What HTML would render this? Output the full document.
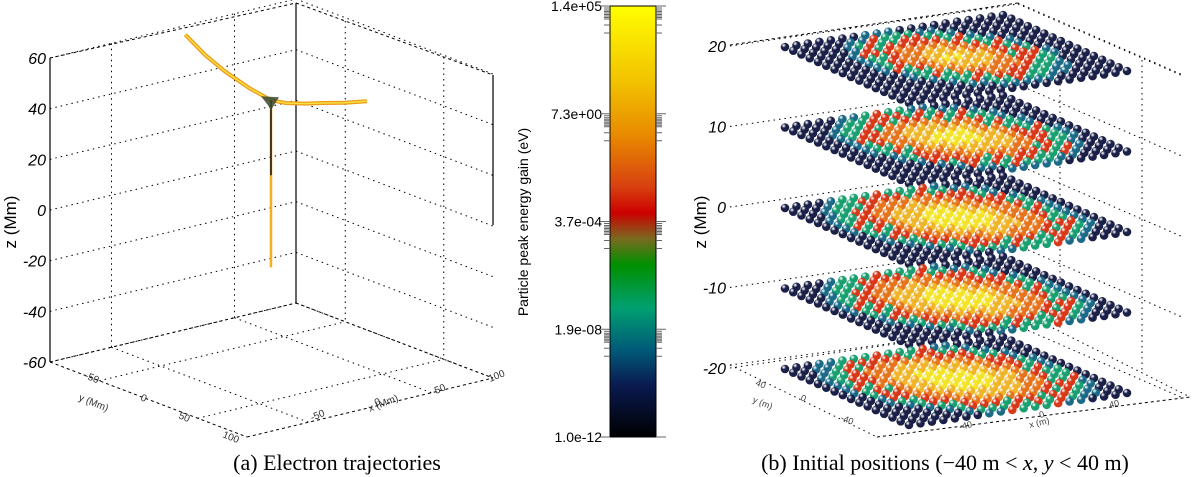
<!DOCTYPE html>
<html><head><meta charset="utf-8"><style>
html,body{margin:0;padding:0;background:#fff;}
svg{display:block;font-family:"Liberation Sans",sans-serif;}
</style></head><body>
<svg id="fig" width="1200" height="477" viewBox="0 0 1200 477" xmlns="http://www.w3.org/2000/svg">
<defs>
<linearGradient id="cbar" x1="0" y1="0" x2="0" y2="1">
<stop offset="0" stop-color="#ffff00"/><stop offset="0.18" stop-color="#f2c000"/><stop offset="0.3" stop-color="#e88a00"/>
<stop offset="0.42" stop-color="#d84010"/><stop offset="0.48" stop-color="#cc0000"/><stop offset="0.54" stop-color="#7a6a20"/>
<stop offset="0.6" stop-color="#009000"/><stop offset="0.7" stop-color="#00a070"/><stop offset="0.8" stop-color="#005878"/>
<stop offset="0.88" stop-color="#0a1a50"/><stop offset="1" stop-color="#000000"/>
</linearGradient>
</defs>
<g id="left"></g>
<g id="cb"></g>
<g id="right"></g>
<text x="337" y="470" text-anchor="middle" font-family="Liberation Serif,serif" font-size="22">(a)  Electron trajectories</text>
<text x="945" y="470" text-anchor="middle" font-family="Liberation Serif,serif" font-size="22">(b)  Initial positions (−40 m &lt; <tspan font-style="italic">x</tspan>, <tspan font-style="italic">y</tspan> &lt; 40 m)</text>
</svg>
<script>
// ---- data ----
const leftZTicks = [60, 40, 20, 0, -20, -40, -60];
const trajX = [18, 18, 18, 18, 18, 30, 45, 60, 78, 96];
const trajY = [110, 90, 70, 45, 23, 23, 23, 23, 23, 23];
const trajZ = [54, 49, 45.5, 42.5, 41, 38.5, 36.5, 35, 33, 31.5];
const stemZ = [41, -25];
const cbarLabels = ["1.4e+05", "7.3e+00", "3.7e-04", "1.9e-08", "1.0e-12"];
const rightZTicks = [20, 10, 0, -10, -20];
const layerZ = [20, 10, 0, -10, -20];
const layerHot = [0.0, 0.12, 0.2, 0.2, 0.22];
const ringLimits = [0.3, 0.5, 0.68, 0.84, 0.98, 1.08];
const ringColors = ["#f4e428", "#f0b428", "#e6741c", "#d83818", "#1aa070", "#1a6a88", "#1b2048"];

const NS = "http://www.w3.org/2000/svg";
function el(parent, tag, attrs, text) {
  const e = document.createElementNS(NS, tag);
  for (const k in attrs) e.setAttribute(k, attrs[k]);
  if (text !== undefined) e.textContent = text;
  parent.appendChild(e);
  return e;
}
const defs = document.querySelector("defs");
ringColors.forEach((c, i) => {
  const g = el(defs, "radialGradient", {id: "sg" + i, cx: "0.35", cy: "0.3", r: "0.75"});
  el(g, "stop", {offset: "0", "stop-color": "#ffffff", "stop-opacity": "0.7"});
  el(g, "stop", {offset: "0.35", "stop-color": c});
  el(g, "stop", {offset: "1", "stop-color": c, "stop-opacity": "1"});
});

// ---- left panel ----
const L = document.getElementById("left");
function P(x, y, z) {
  const u = (x + 100) / 200, v = (y + 100) / 200, w = (z + 60) / 120;
  return [247 + 246 * u - 197 * v, 437 - 59 * u - 75 * v - 304 * w];
}
function zToY(z) { return 362 - (z + 60) / 120 * 304; }
const dot = {stroke: "#000", "stroke-width": "1", "stroke-dasharray": "1.5 4", fill: "none"};
function line(g, a, b, st, name) {
  const l = el(g, "line", Object.assign({x1: a[0], y1: a[1], x2: b[0], y2: b[1]}, st));
  
  
  return l;
}
leftZTicks.forEach(z => {
  const y = zToY(z);
  line(L, [50, y], [296, y - 59], dot, "grid-line");
  line(L, [296, y - 59], [493, y + 16], dot, "grid-line");
  const t = el(L, "text", {x: 46, y: y + 6, "text-anchor": "end", "font-size": "16", "font-style": "italic"}, String(z));
  
  
});
[0.25, 0.75].forEach(f => {
  line(L, [50 + 246 * f, 58 - 59 * f], [50 + 246 * f, 362 - 59 * f], dot, "grid-line");
  line(L, [296 + 197 * f, 3 + 72 * f], [296 + 197 * f, 303 + 75 * f], dot, "grid-line");
  line(L, [50 + 197 * f, 362 + 75 * f], [296 + 197 * f, 303 + 75 * f], dot, "floor-grid");
  line(L, [296 - 246 * f, 303 + 59 * f], [493 - 246 * f, 378 + 59 * f], dot, "floor-grid");
});
const dash = {stroke: "#000", "stroke-width": "1", "stroke-dasharray": "3 3", fill: "none"};
line(L, [50, 58], [296, 3], dash, "top-edge");
line(L, [296, 3], [493, 75], dash, "top-edge");
line(L, [50, 362], [296, 303], dash, "floor-edge");
line(L, [296, 303], [493, 378], dash, "floor-edge");
line(L, [50, 362], [247, 437], dash, "floor-edge");
line(L, [247, 437], [493, 378], dash, "floor-edge");
const solid = {stroke: "#000", "stroke-width": "1.2"};
line(L, [50, 58], [50, 362], solid, "z-axis");
line(L, [296, 3], [296, 303], solid, "back-edge");
line(L, [493, 75], [493, 225], solid, "right-edge");
const zl = el(L, "text", {x: 0, y: 0, transform: "translate(16,222) rotate(-90)", "text-anchor": "middle", "font-size": "17"}, "z (Mm)");


[["y (Mm)", 78, 400, 22], ["x (Mm)", 370, 412, -22], ["-50", 84, 378, 22], ["0", 140, 400, 22], ["50", 178, 418, 22], ["100", 222, 437, 22], ["-50", 312, 421, -22], ["0", 376, 406, -22], ["50", 436, 394, -22], ["100", 490, 382, -22]].forEach(d => {
  const t = el(L, "text", {x: d[1], y: d[2], transform: `rotate(${d[3]} ${d[1]} ${d[2]})`, "font-size": "10", fill: "#333"}, d[0]);
  
  
});
const tpts = trajX.map((x, i) => P(x, trajY[i], trajZ[i]));
const tp = tpts.map(p => p.join(",")).join(" ");
let tr = el(L, "polyline", {points: tp, fill: "none", stroke: "#ec9a1c", "stroke-width": "4", "stroke-linejoin": "round"});


tr = el(L, "polyline", {points: tp, fill: "none", stroke: "#f8e040", "stroke-width": "1.5", "stroke-linejoin": "round"});


const s0 = P(trajX[4], trajY[4], stemZ[0]), s1 = P(trajX[4], trajY[4], stemZ[1]);
let st = el(L, "line", {x1: s0[0], y1: s0[1], x2: s1[0], y2: s1[1], stroke: "#f0b020", "stroke-width": "2.5"});


st = el(L, "line", {x1: s0[0], y1: s0[1], x2: s0[0], y2: s0[1] + 75, stroke: "#111", "stroke-width": "1.5"});


const cl = el(L, "path", {d: `M${s0[0]-10},${s0[1]-4} L${s0[0]+8},${s0[1]-3} L${s0[0]+3},${s0[1]+5} L${s0[0]},${s0[1]+10} L${s0[0]-3},${s0[1]+5} Z`, fill: "#3a4a30", opacity: "0.85"});



// ---- colorbar ----
const C = document.getElementById("cb");
const cbx = 610, cbw = 46, cbt = 6, cbb = 437;
const cr = el(C, "rect", {x: cbx, y: cbt, width: cbw, height: cbb - cbt, fill: "url(#cbar)", stroke: "#000", "stroke-width": "1"});


cbarLabels.forEach((lab, i) => {
  const y = cbt + (cbb - cbt) * i / (cbarLabels.length - 1);
  const t = el(C, "text", {x: 602, y: y + 5, "text-anchor": "end", "font-size": "14"}, lab);
  
  
  const offs = i < cbarLabels.length - 1 ? [0, 2, 4, 5.5, 7, 8.5, 10, 11.5, 13, 19, 27] : [0];
  offs.forEach(o => {
    const w = o === 0 ? 10 : 6;
    el(C, "line", {x1: cbx - w, y1: y + o, x2: cbx, y2: y + o, stroke: "#666", "stroke-width": "1"});
    el(C, "line", {x1: cbx + cbw, y1: y + o, x2: cbx + cbw + w, y2: y + o, stroke: "#666", "stroke-width": "1"});
  });
});
const cbl = el(C, "text", {x: 0, y: 0, transform: "translate(528,222) rotate(-90)", "text-anchor": "middle", "font-size": "14"}, "Particle peak energy gain (eV)");



// ---- right panel ----
const R = document.getElementById("right");
function zY2(z) { return 207 - z * 8.05; }
rightZTicks.forEach(z => {
  const y = zY2(z);
  line(R, [730, y], [1018, y - 42], dot, "grid-line");
  line(R, [1018, y - 42], [1183, y + 30], dot, "grid-line");
  const t = el(R, "text", {x: 726, y: y + 6, "text-anchor": "end", "font-size": "16", "font-style": "italic"}, String(z));
  
  
});
line(R, [730, 45], [1018, 3], dash, "top-edge");
line(R, [1018, 3], [1183, 75], dot, "top-edge");
line(R, [730, 365], [877, 437], dot, "floor-edge");
line(R, [877, 437], [1190, 397], dash, "floor-edge");
line(R, [730, 365], [1043, 323], dot, "floor-edge");
line(R, [1043, 323], [1190, 397], dot, "floor-edge");
line(R, [1060, 40], [1060, 330], dot, "grid-line");
line(R, [1142, 60], [1142, 372], dot, "grid-line");
const zl2 = el(R, "text", {x: 0, y: 0, transform: "translate(706,222) rotate(-90)", "text-anchor": "middle", "font-size": "17"}, "z (Mm)");


[["y (m)", 752, 402, 22], ["x (m)", 1030, 428, -14], ["40", 755, 385, 22], ["0", 800, 400, 22], ["-40", 840, 420, 22], ["-40", 960, 430, -14], ["0", 1040, 418, -14], ["40", 1110, 408, -14]].forEach(d => {
  const t = el(R, "text", {x: d[1], y: d[2], transform: `rotate(${d[3]} ${d[1]} ${d[2]})`, "font-size": "9", fill: "#444"}, d[0]);
  
  
});
const NA = 20, NB = 16;
layerZ.forEach((z, li) => {
  const g = el(R, "g", {});
  
  
  const ly = zY2(z) + 1;
  const cx = 956, cy = ly + 10;
  for (let b = 0; b < NB; b++) {
    for (let a = NA - 1; a >= 0; a--) {
      const fa = a / (NA - 1), fb = b / (NB - 1);
      const px = 785 + 218 * fa + 124 * fb;
      const py = ly - 32 * fa + 56 * fb;
      const dx = (px - cx) / 128, dy = (py - cy - (px - cx) * 0.07) / 30;
      const d = Math.hypot(dx, dy) + 0.2 - layerHot[li];
      let k = ringLimits.findIndex(r => d < r);
      if (k < 0) k = ringColors.length - 1;
      if (k === 3 && (a + 2 * b) % 3 === 0) k = 4;
      if (k === 4 && (a + b) % 4 === 0) k = 3;
      const c = el(g, "circle", {cx: px.toFixed(1), cy: py.toFixed(1), r: 4.3, fill: "url(#sg" + k + ")"});
      
      
    }
  }
});
</script>
</body></html>
